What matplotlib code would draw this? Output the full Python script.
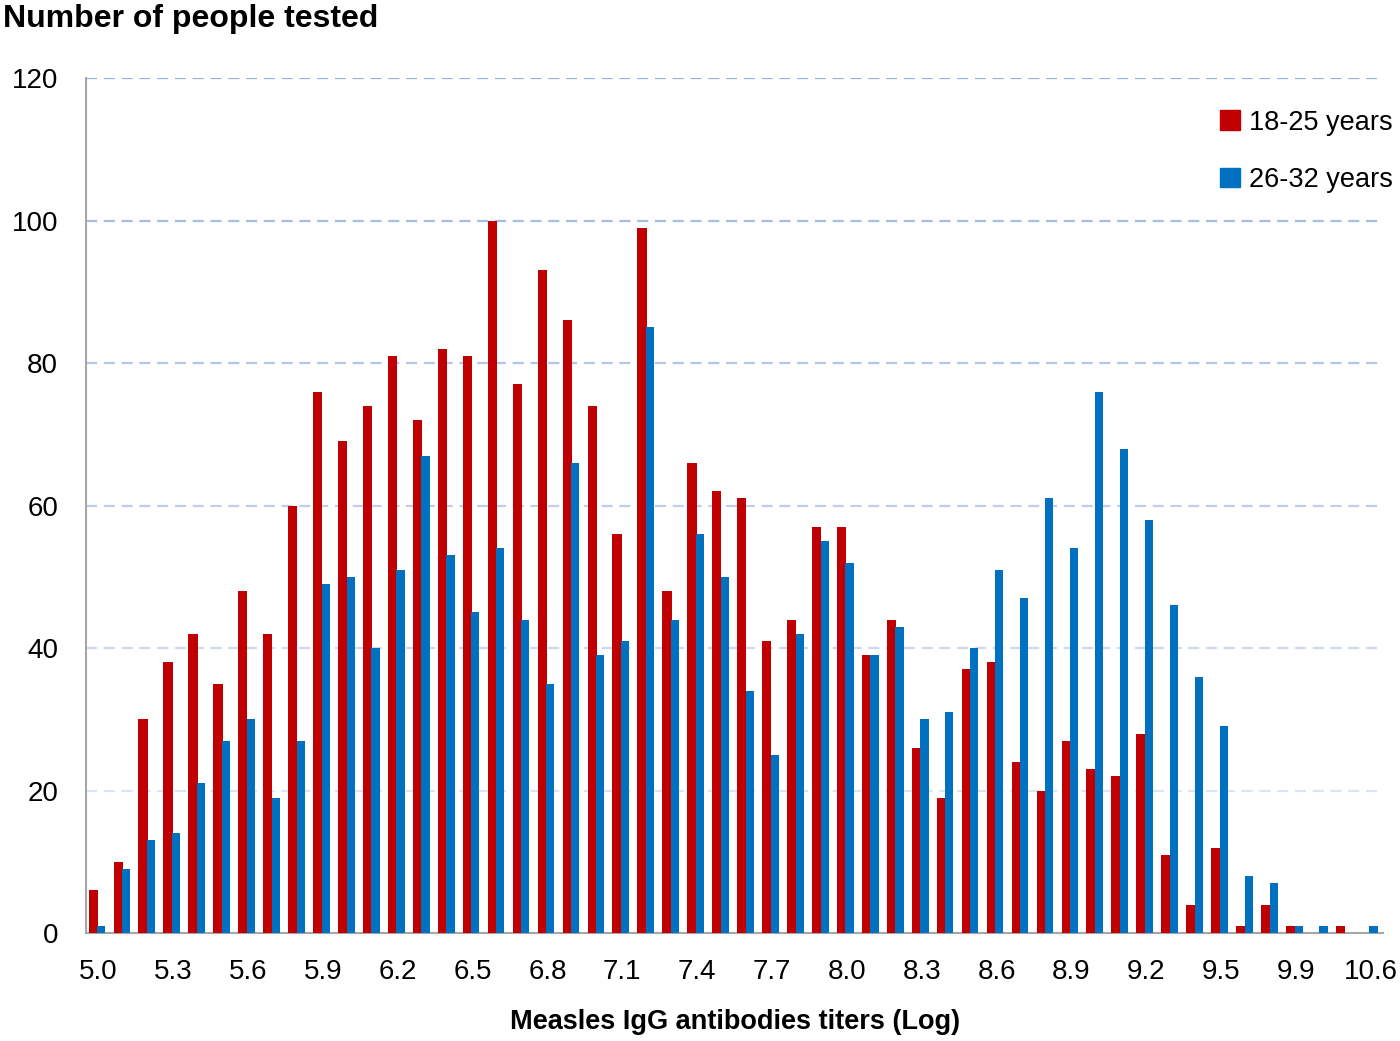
import numpy as np
import matplotlib
matplotlib.use("Agg")
import matplotlib.pyplot as plt
from matplotlib.patches import Patch

plt.rcParams['font.family'] = ['Liberation Sans', 'DejaVu Sans']

# titer categories (log), labels shown on every third one
titers = ['5.0', '5.1', '5.2', '5.3', '5.4', '5.5', '5.6', '5.7', '5.8', '5.9',
          '6.0', '6.1', '6.2', '6.3', '6.4', '6.5', '6.6', '6.7', '6.8', '6.9',
          '7.0', '7.1', '7.2', '7.3', '7.4', '7.5', '7.6', '7.7', '7.8', '7.9',
          '8.0', '8.1', '8.2', '8.3', '8.4', '8.5', '8.6', '8.7', '8.8', '8.9',
          '9.0', '9.1', '9.2', '9.3', '9.4', '9.5', '9.6', '9.7', '9.9', '10.0',
          '10.2', '10.6']

age_18_25 = [6, 10, 30, 38, 42, 35, 48, 42, 60, 76,
             69, 74, 81, 72, 82, 81, 100, 77, 93, 86,
             74, 56, 99, 48, 66, 62, 61, 41, 44, 57,
             57, 39, 44, 26, 19, 37, 38, 24, 20, 27,
             23, 22, 28, 11, 4, 12, 1, 4, 1, 0,
             1, 0]

age_26_32 = [1, 9, 13, 14, 21, 27, 30, 19, 27, 49,
             50, 40, 51, 67, 53, 45, 54, 44, 35, 66,
             39, 41, 85, 44, 56, 50, 34, 25, 42, 55,
             52, 39, 43, 30, 31, 40, 51, 47, 61, 54,
             76, 68, 58, 46, 36, 29, 8, 7, 1, 1,
             0, 1]

series_names = ['18-25 years', '26-32 years']
red = '#C00000'
blue = '#0070C0'

fig = plt.figure(figsize=(14, 10.41), dpi=100)
ax = fig.add_axes([0.0614, 0.1037, 0.9266, 0.8213])

x = np.arange(len(titers))
ax.bar(x - 0.21, age_18_25, width=0.37, color=red, zorder=3)
ax.bar(x + 0.11, age_26_32, width=0.33, color=blue, zorder=4)

ax.set_xlim(-0.5, len(titers) - 0.5)
ax.set_ylim(0, 120)

# dashed gridlines, lighter towards the bottom
grid_colors = {20: '#DCE4F3', 40: '#CCD8EF', 60: '#BFCFEB', 80: '#B3C6E7', 100: '#A6BCE3', 120: '#97B1DE'}
for level, c in grid_colors.items():
    ax.axhline(level, color=c, linestyle=(0, (5, 3)), linewidth=1.6, zorder=1)

ax.set_yticks(np.arange(0, 121, 20))
ax.set_xticks(x[::3])
ax.set_xticklabels(titers[::3])
ax.tick_params(axis='y', length=0, pad=20, labelsize=20)
ax.tick_params(axis='x', length=0, pad=19, labelsize=20)

for side in ['top', 'right']:
    ax.spines[side].set_visible(False)
for side in ['left', 'bottom']:
    ax.spines[side].set_color('#A6A6A6')
    ax.spines[side].set_linewidth(1.5)

ax.set_xlabel('Measles IgG antibodies titers (Log)', fontsize=19.5, fontweight='bold', labelpad=17)
fig.text(0.002, 0.982, 'Number of people tested', fontsize=23, fontweight='bold',
         ha='left', va='center')

handles = [Patch(color=red), Patch(color=blue)]
fig.legend(handles, series_names, loc='upper right', bbox_to_anchor=(1.003, 0.905),
           frameon=False, fontsize=19.5, handlelength=0.75, handleheight=0.75,
           handletextpad=0.35, labelspacing=1.15, borderaxespad=0)

fig.savefig('out.png', dpi=100)
